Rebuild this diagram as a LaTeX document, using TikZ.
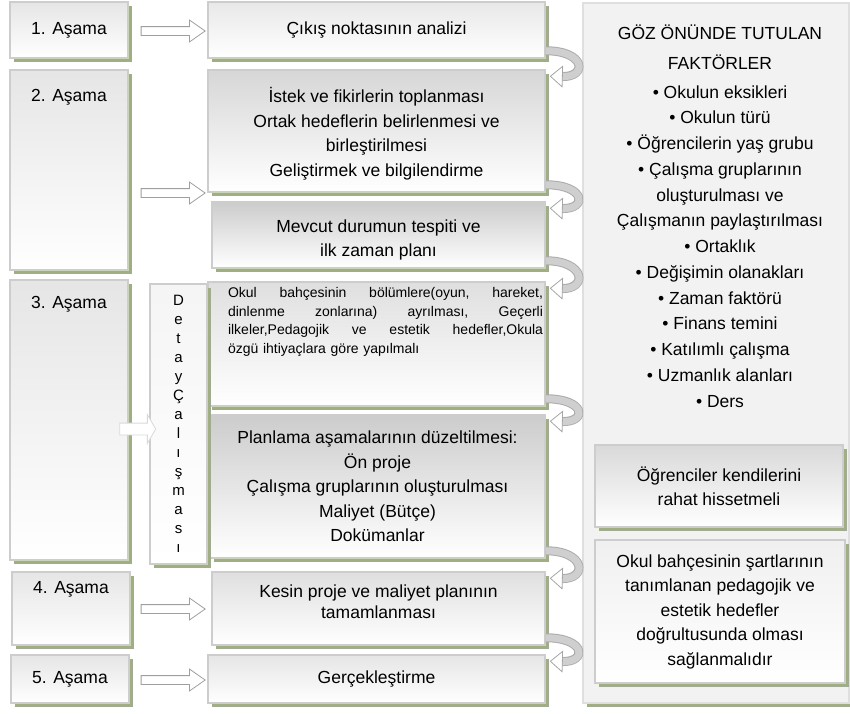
\documentclass[tikz,border=0pt]{standalone}
\usepackage{fontspec}
\setmainfont{Liberation Sans}
\usetikzlibrary{shapes.arrows,shadows,arrows.meta}
\definecolor{shadowgreen}{RGB}{160,175,130}
\definecolor{boxline}{RGB}{205,205,205}

\begin{document}
\begin{tikzpicture}[x=1pt, y=-1pt]
    \tikzstyle{every node}=[align=center, inner sep=0pt, font=\fontsize{17.5}{24.5}\selectfont]
    \tikzstyle{box}=[draw=boxline, line width=1.5pt,
        drop shadow={shadow xshift=4pt, shadow yshift=-4pt, fill=shadowgreen, opacity=1}]
    \tikzstyle{grad}=[top color=gray!25, bottom color=white]
    \tikzstyle{stage}=[box, grad, minimum width=118pt, top color=gray!20]
    \tikzstyle{task}=[box, grad, minimum width=337pt]
    \tikzstyle{fwd}=[single arrow, draw=gray!75, fill=white, line width=0.8pt, minimum height=64pt,
        inner xsep=0pt, inner ysep=4pt, single arrow head extend=6.5pt, single arrow tip angle=70]
    \tikzstyle{turn}=[line width=7pt, draw=gray!38,
        preaction={-, draw=gray!65, line width=9pt, shorten >=12pt},
        -{Triangle[width=22pt, length=13pt, fill=white, color=gray!70, line width=0.8pt]}]

    \useasboundingbox (0,0) rectangle (850,713);

    \node[stage, minimum height=56pt] (s1) at (69,30) {1. Aşama};
    \node[stage, minimum height=200pt] (s2) at (69,170) {};
    \node[stage, minimum height=280pt] (s3) at (69,420) {};
    \node[stage, minimum height=73pt] (s4) at (71,608.5) {};
    \node[stage, minimum height=48pt] (s5) at (70,679) {5. Aşama};
    \node (s2t) at (69,97) {2. Aşama};
    \node (s3t) at (69,304) {3. Aşama};
    \node (s4t) at (71,589) {4. Aşama};

    \node[task, minimum height=56pt, top color=gray!18] (m1) at (376.5,30) {Çıkış noktasının analizi};
    \node[task, minimum height=122pt, top color=gray!32] (m2) at (376.5,131) {};
    \node (m2t) at (376.5,134)
        {İstek ve fikirlerin toplanması\\Ortak hedeflerin belirlenmesi ve\\birleştirilmesi\\Geliştirmek ve bilgilendirme};
    \node[task, minimum width=333pt, minimum height=66pt, top color=gray!40] (m3) at (378.5,235) {};
    \node (m3t) at (378.5,240) {Mevcut durumun tespiti ve\\ilk zaman planı};
    \node[task, minimum height=124pt] (m4) at (376.5,344) {};
    \node[text width=315pt, align=left, font=\fontsize{14}{18.5}\selectfont] (m4t) at (385.5,322)
        {\makebox[315pt][l]{Okul\hfill bahçesinin\hfill bölümlere(oyun,\hfill hareket,}\\
         \makebox[315pt][l]{dinlenme\hfill zonlarına)\hfill ayrılması,\hfill Geçerli}\\
         \makebox[315pt][l]{ilkeler,Pedagojik\hfill ve\hfill estetik\hfill hedefler,Okula}\\
         özgü ihtiyaçlara göre yapılmalı};
    \node[task, minimum width=335pt, minimum height=143pt, top color=gray!40] (m5) at (377.5,486.5)
        {Planlama aşamalarının düzeltilmesi:\\Ön proje\\Çalışma gruplarının oluşturulması\\Maliyet (Bütçe)\\Dokümanlar};
    \node[task, minimum width=333pt, minimum height=73pt] (m6) at (378.5,608.5) {};
    \node[font=\fontsize{17.5}{21}\selectfont] (m6t) at (378.5,602) {Kesin proje ve maliyet planının\\tamamlanması};
    \node[task, minimum height=48pt, top color=gray!20] (m7) at (376.5,679) {Gerçekleştirme};

    \node[box, grad, top color=gray!8, minimum width=57pt, minimum height=280pt,
        font=\fontsize{15}{19}\selectfont] (d) at (178.5,424)
        {D\\e\\t\\a\\y\\Ç\\a\\l\\ı\\ş\\m\\a\\s\\ı};

    \node[box, draw=gray!25, line width=2pt, top color=gray!10, bottom color=gray!10,
        minimum width=266pt, minimum height=700pt] (r) at (716,353) {};
    \node[font=\fontsize{17.5}{25.75}\selectfont] (fac) at (720,216)
        {GÖZ ÖNÜNDE TUTULAN\\[4.25pt]FAKTÖRLER\\[3.25pt]
         \textbullet{} Okulun eksikleri\\
         \textbullet{} Okulun türü\\
         \textbullet{} Öğrencilerin yaş grubu\\
         \textbullet{} Çalışma gruplarının\\
         oluşturulması ve\\
         Çalışmanın paylaştırılması\\
         \textbullet{} Ortaklık\\
         \textbullet{} Değişimin olanakları\\
         \textbullet{} Zaman faktörü\\
         \textbullet{} Finans temini\\
         \textbullet{} Katılımlı çalışma\\
         \textbullet{} Uzmanlık alanları\\
         \textbullet{} Ders};
    \node[box, grad, top color=gray!30, minimum width=248pt, minimum height=82pt] (r1) at (719,486)
        {Öğrenciler kendilerini\\rahat hissetmeli};
    \node[box, grad, top color=gray!12, minimum width=250pt, minimum height=143pt] (r2) at (720,611.5)
        {Okul bahçesinin şartlarının\\tanımlanan pedagojik ve\\estetik hedefler\\doğrultusunda olması\\sağlanmalıdır};

    \node[fwd] (a1) at (170,31) {};
    \node[fwd] (a2) at (170,193) {};
    \node[fwd, draw=gray!30, minimum height=36pt, inner ysep=5.5pt,
        single arrow head extend=8.5pt, single arrow tip angle=120] (a3) at (136,429) {};
    \node[fwd] (a4) at (170,609) {};
    \node[fwd] (a5) at (170,680) {};

    \foreach \a/\b in {m1/m2, m2/m3, m3/m4, m4/m5, m5/m6, m6/m7}
        \draw[turn] ([yshift=8pt]\a.south east) .. controls +(40,0) and +(38,1) .. ([xshift=4pt,yshift=-7pt]\b.north east);
\end{tikzpicture}
\end{document}
